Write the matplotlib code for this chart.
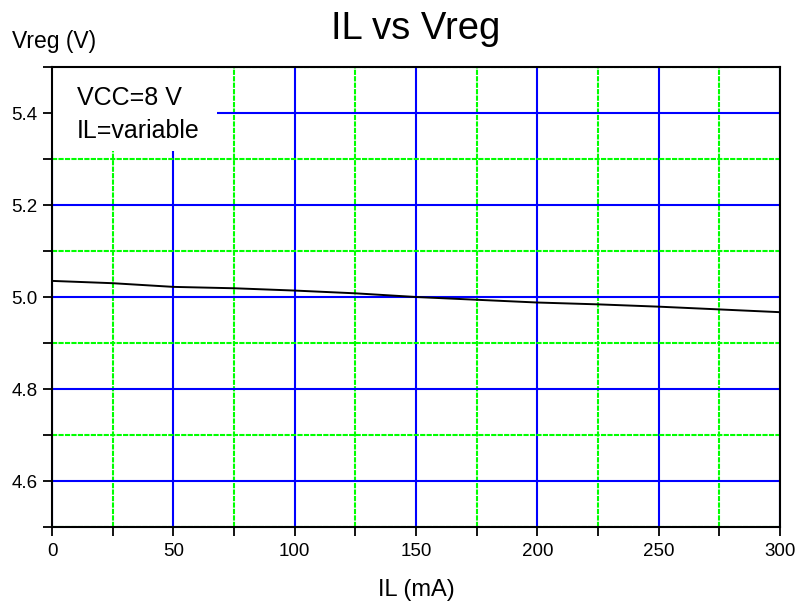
import matplotlib
matplotlib.use("Agg")
from matplotlib import pyplot as plt
from matplotlib.patches import Rectangle
from matplotlib.ticker import MultipleLocator

plt.rcParams['font.family'] = ['Liberation Sans', 'DejaVu Sans']

# load current (mA) vs regulated voltage (V)
il_ma = [0, 25, 50, 75, 100, 125, 150, 175, 200, 225, 250, 275, 300]
vreg = [5.035, 5.030, 5.022, 5.019, 5.014, 5.008, 5.000,
        4.994, 4.988, 4.984, 4.979, 4.973, 4.967]

title = "IL vs Vreg"
x_label = "IL (mA)"
y_label = "Vreg (V)"
legend_lines = ["VCC=8 V", "IL=variable"]


def main():
    fig = plt.figure(figsize=(7.98, 6.05), dpi=100)
    ax = fig.add_axes([52 / 798, 1 - 527 / 605, 728 / 798, 460 / 605])

    ax.set_xlim(0, 300)
    ax.set_ylim(4.5, 5.5)
    ax.xaxis.set_major_locator(MultipleLocator(50))
    ax.xaxis.set_minor_locator(MultipleLocator(25))
    ax.yaxis.set_minor_locator(MultipleLocator(0.1))
    ax.set_yticks([4.6, 4.8, 5.0, 5.2, 5.4])
    ax.yaxis.set_major_formatter(plt.FormatStrFormatter('%.1f'))

    ax.tick_params(which='both', direction='out', length=6.5, width=1.3)
    ax.tick_params(axis='x', labelsize=13.5, pad=5)
    ax.tick_params(axis='y', labelsize=13.5, pad=4)

    ax.grid(which='major', color='#0000ff', linewidth=1.5, linestyle='-')
    ax.grid(which='minor', color='#00ff00', linewidth=1.5,
            linestyle=(0, (2.5, 0.6)))
    ax.set_axisbelow(True)

    for sp in ax.spines.values():
        sp.set_linewidth(1.5)
        sp.set_color('black')

    ax.plot(il_ma, vreg, color='black', linewidth=1.4, zorder=3)

    # white legend box covering the grid
    ax.add_patch(Rectangle((0, 1 - 84 / 460), 165 / 728, 84 / 460,
                           transform=ax.transAxes, facecolor='white',
                           edgecolor='none', zorder=2.5))
    ax.text(25 / 728, 1 - 38 / 460, legend_lines[0], transform=ax.transAxes,
            fontsize=18, va='baseline', zorder=4)
    ax.text(25 / 728, 1 - 71 / 460, legend_lines[1], transform=ax.transAxes,
            fontsize=18, va='baseline', zorder=4)

    fig.text(416 / 798, 1 - 39 / 605, title, fontsize=27.5, ha='center',
             va='baseline')
    fig.text(416 / 798, 1 - 596 / 605, x_label, fontsize=17, ha='center',
             va='baseline')
    fig.text(12 / 798, 1 - 48 / 605, y_label, fontsize=16.5, ha='left',
             va='baseline')

    fig.savefig("out.png", dpi=100)


if __name__ == "__main__":
    main()
